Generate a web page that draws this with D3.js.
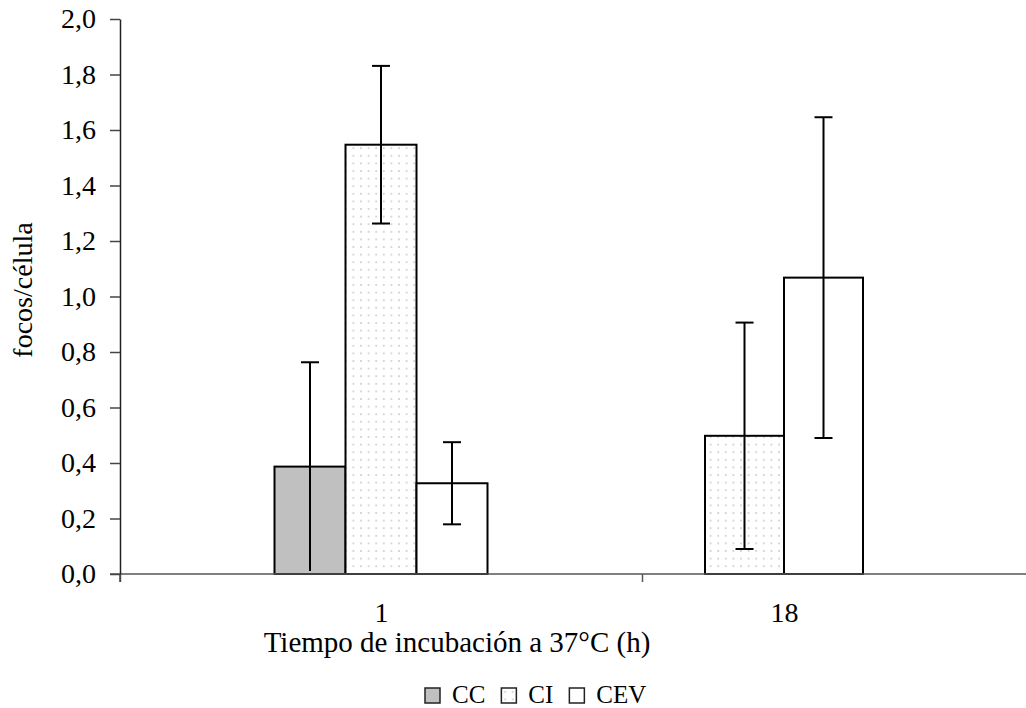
<!DOCTYPE html>
<html>
<head>
<meta charset="utf-8">
<script src="https://cdn.jsdelivr.net/npm/d3@7"></script>
<style>
  body { margin: 0; background: #fff; }
  svg text { font-family: "Liberation Serif", Tinos, "DejaVu Serif", serif !important; fill: #000; }
</style>
</head>
<body>
<div id="chart"></div>
<script>
// data
const categories = ["1", "18"];
const seriesNames = ["CC", "CI", "CEV"];
const meanCC = [0.387, null];
const meanCI = [1.547, 0.498];
const meanCEV = [0.327, 1.068];
const errCC = [0.376, null];
const errCI = [0.284, 0.408];
const errCEV = [0.148, 0.578];
const yTicks = [0, 0.2, 0.4, 0.6, 0.8, 1.0, 1.2, 1.4, 1.6, 1.8, 2.0];

const width = 1026;
const height = 708;
const tickFont = 28;
const titleFont = 29;
const legendFont = 25;

const svg = d3.select("#chart")
  .append("svg")
  .attr("width", width)
  .attr("height", height);

// dotted fill for CI
const pattern = svg.append("defs")
  .append("pattern")
  .attr("id", "dots")
  .attr("patternUnits", "userSpaceOnUse")
  .attr("width", 7.6)
  .attr("height", 7.6);
pattern.append("rect").attr("width", 7.6).attr("height", 7.6).attr("fill", "#fff");
pattern.append("circle").attr("cx", 3.8).attr("cy", 3.8).attr("r", 0.9).attr("fill", "#c4c4c4");

const fills = { CC: "#c0c0c0", CI: "url(#dots)", CEV: "#ffffff" };
const means = { CC: meanCC, CI: meanCI, CEV: meanCEV };
const errs = { CC: errCC, CI: errCI, CEV: errCEV };

// scales
const y = d3.scaleLinear().domain([0, 2]).range([574, 19]);
const xBound = d3.scaleLinear().domain([0, 2]).range([120, 1164]);  // category boundaries
const xCenter = d3.scalePoint().domain(categories).range([381, 784]);
const groupBarWidth = { "1": 71, "18": 79 };

// bars: only the series that have a value in each group, centred on the label
const bars = [];
categories.forEach((cat, i) => {
  const present = seriesNames.filter(s => means[s][i] != null);
  const w = groupBarWidth[cat];
  const c = xCenter(cat);
  const inner = d3.scaleBand()
    .domain(present)
    .range([c - present.length * w / 2, c + present.length * w / 2]);
  present.forEach(s => {
    bars.push({ cat, s, v: means[s][i], e: errs[s][i], x0: inner(s), bw: inner.bandwidth() });
  });
});

const plot = svg.append("g");

plot.selectAll("rect.bar")
  .data(bars)
  .enter().append("rect")
  .attr("class", "bar")
  .attr("x", d => d.x0)
  .attr("y", d => y(d.v))
  .attr("width", d => d.bw)
  .attr("height", d => y(0) - y(d.v))
  .attr("fill", d => fills[d.s])
  .attr("stroke", "#000")
  .attr("stroke-width", 2);

// error bars
const capHalf = 9;
const eb = plot.selectAll("g.err")
  .data(bars)
  .enter().append("g")
  .attr("class", "err")
  .attr("stroke", "#000")
  .attr("stroke-width", 2);
eb.append("line")
  .attr("x1", d => d.x0 + d.bw / 2).attr("x2", d => d.x0 + d.bw / 2)
  .attr("y1", d => y(Math.max(0, d.v - d.e))).attr("y2", d => y(d.v + d.e));
eb.append("line")
  .attr("x1", d => d.x0 + d.bw / 2 - capHalf).attr("x2", d => d.x0 + d.bw / 2 + capHalf)
  .attr("y1", d => y(d.v + d.e)).attr("y2", d => y(d.v + d.e));
eb.filter(d => d.v - d.e > 0.03).append("line")
  .attr("x1", d => d.x0 + d.bw / 2 - capHalf).attr("x2", d => d.x0 + d.bw / 2 + capHalf)
  .attr("y1", d => y(d.v - d.e)).attr("y2", d => y(d.v - d.e));

// x axis: line, boundary ticks, centred labels
svg.append("line")
  .attr("x1", 110).attr("x2", width)
  .attr("y1", y(0)).attr("y2", y(0))
  .attr("stroke", "#555").attr("stroke-width", 1.5);

svg.append("g")
  .attr("transform", `translate(0,${y(0)})`)
  .call(d3.axisBottom(xBound).tickValues([0, 1, 2]).tickFormat("").tickSize(8).tickSizeOuter(0))
  .call(g => g.select(".domain").remove())
  .call(g => g.selectAll("line").attr("stroke", "#555").attr("stroke-width", 1.5));

svg.append("g")
  .attr("transform", `translate(0,${y(0)})`)
  .call(d3.axisBottom(xCenter).tickSize(0).tickPadding(28))
  .call(g => g.select(".domain").remove())
  .call(g => g.selectAll("text")
    .attr("font-size", tickFont)
    .attr("fill", "#000"));

// y axis
svg.append("g")
  .attr("transform", "translate(120,0)")
  .call(d3.axisLeft(y).tickValues(yTicks).tickSize(10).tickSizeOuter(0).tickPadding(14)
    .tickFormat(d => d3.format(".1f")(d).replace(".", ",")))
  .call(g => g.select(".domain").attr("stroke", "#222").attr("stroke-width", 1.5))
  .call(g => g.selectAll("line").attr("stroke", "#444").attr("stroke-width", 1.5))
  .call(g => g.selectAll("text")
    .attr("font-size", tickFont)
    .attr("fill", "#000"));

svg.append("line")
  .attr("x1", 120).attr("x2", 120)
  .attr("y1", y(0)).attr("y2", y(0) + 8)
  .attr("stroke", "#444").attr("stroke-width", 1.5);

// axis titles
svg.append("text")
  .attr("transform", "translate(32,290) rotate(-90)")
  .attr("text-anchor", "middle")
  .attr("font-size", tickFont)
  .text("focos/célula");

svg.append("text")
  .attr("x", 457)
  .attr("y", 652)
  .attr("text-anchor", "middle")
  .attr("font-size", titleFont)
  .text("Tiempo de incubación a 37°C (h)");

// legend
const legend = svg.append("g").attr("transform", "translate(425,688)");
let lx = 0;
seriesNames.forEach(s => {
  const item = legend.append("g").attr("transform", `translate(${lx},0)`);
  item.append("rect")
    .attr("width", 15).attr("height", 15)
    .attr("fill", fills[s])
    .attr("stroke", "#222").attr("stroke-width", 1.5);
  const t = item.append("text")
    .attr("x", 27).attr("y", 15)
    .attr("font-size", legendFont)
    .text(s);
  lx += 27 + t.node().getComputedTextLength() + 16;
});
</script>
</body>
</html>
